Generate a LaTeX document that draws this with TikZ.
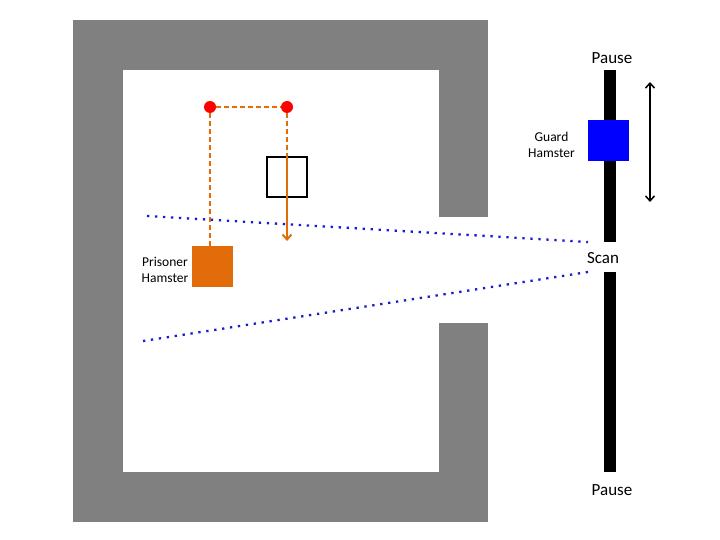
\documentclass[tikz,border=0pt]{standalone}
\usepackage{fontspec}
\setmainfont{Carlito}
\usetikzlibrary{arrows.meta}
\definecolor{wallgray}{HTML}{808080}
\definecolor{hamorange}{HTML}{E36C0A}
\definecolor{dotblue}{HTML}{1A1ACC}
\tikzset{
  wall/.style={fill=wallgray, draw=none},
  barpart/.style={fill=black, draw=none},
  reddot/.style={circle, fill=red, draw=none, minimum size=12pt, inner sep=0pt},
  pathline/.style={draw=hamorange, line width=2pt, dash pattern=on 5pt off 3pt},
  moveline/.style={draw=hamorange, line width=2pt},
  sightline/.style={draw=dotblue, line width=2.3pt, dash pattern=on 2.3pt off 5.7pt},
  lbl/.style={font=\fontsize{13.5}{16}\selectfont, align=center, inner sep=0pt},
  biglbl/.style={font=\fontsize{17}{20}\selectfont, inner sep=0pt},
}
\begin{document}
\begin{tikzpicture}[x=1pt,y=-1pt]
\useasboundingbox (0,0) rectangle (720,540);
% walls
\fill[wall] (73,20) rectangle (488,70);
\fill[wall] (73,20) rectangle (123,522);
\fill[wall] (73,472) rectangle (488,522);
\fill[wall] (439,20) rectangle (488,217);
\fill[wall] (439,323) rectangle (488,522);
% guard track
\fill[barpart] (604,70) rectangle (616,242);
\fill[barpart] (604,272) rectangle (616,472);
\node[biglbl] (ptop) at (612,58) {Pause};
\node[biglbl] (pbot) at (612,490) {Pause};
\node[biglbl] (scan) at (603,258) {Scan};
% guard hamster
\node[fill=blue, draw=none, minimum size=41pt, inner sep=0pt] (guard) at (608.5,140.5) {};
\node[lbl, anchor=east] (guardlbl) at (575,145) {Guard\\Hamster};
% double arrow
\coordinate (atop) at (650,82);
\coordinate (abot) at (650,202);
\draw[line width=1.5pt, {Straight Barb[length=5pt,width=9pt]}-{Straight Barb[length=5pt,width=9pt]}] (atop) -- (abot);
% sight lines
\coordinate (s1a) at (147,216);
\coordinate (s1b) at (588,242);
\coordinate (s2a) at (143,341);
\coordinate (s2b) at (588,272);
\draw[sightline] (s1a) -- (s1b);
\draw[sightline] (s2a) -- (s2b);
% prisoner
\node[fill=hamorange, draw=none, minimum size=41pt, inner sep=0pt] (prisoner) at (212.5,266.5) {};
\node[lbl, anchor=east] (prislbl) at (188.5,270) {Prisoner\\Hamster};
% black box
\node[draw=black, line width=2pt, minimum size=40pt, inner sep=0pt] (box) at (287,177) {};
% path
\node[reddot] (d1) at (210,107) {};
\node[reddot] (d2) at (287,107) {};
\coordinate (mid) at (287,157);
\coordinate (tip) at (287,241);
\draw[pathline] (d1) -- (d2);
\draw[pathline] (d1) -- (d1 |- prisoner.north);
\draw[pathline] (d2) -- (mid);
\draw[moveline, -{Straight Barb[length=5pt,width=9pt]}] (mid) -- (tip);
\end{tikzpicture}
\end{document}
